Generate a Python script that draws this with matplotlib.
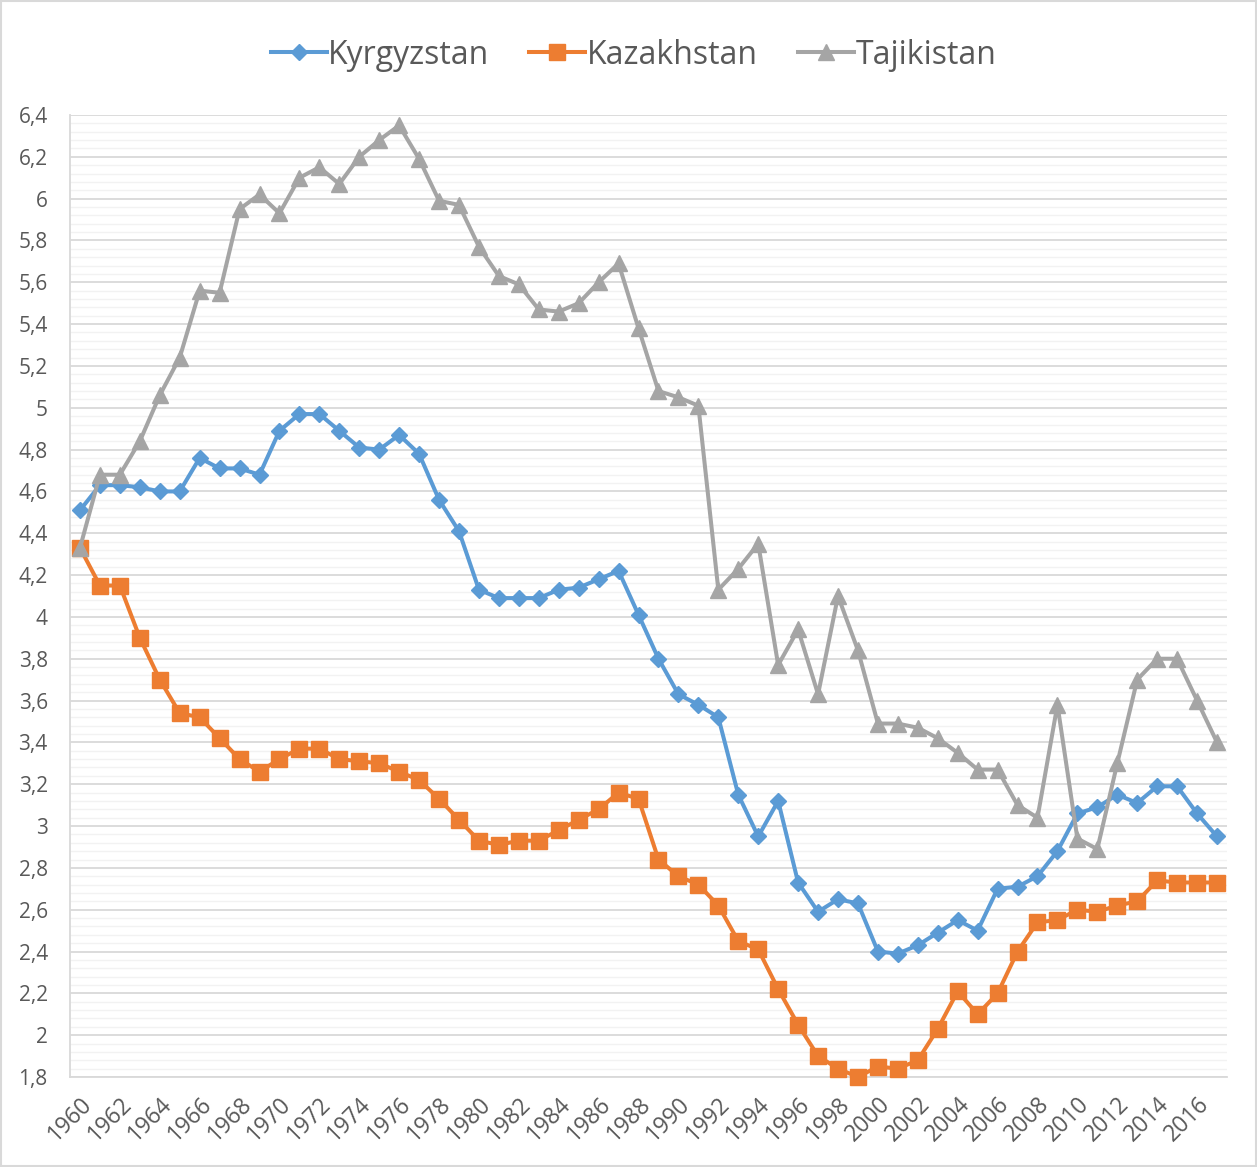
import matplotlib
matplotlib.use("Agg")
import matplotlib.pyplot as plt
import matplotlib.transforms as mtransforms
from matplotlib.ticker import MultipleLocator, FuncFormatter
from matplotlib.patches import Rectangle

years = list(range(1960, 2018))

kyrgyzstan = [4.51, 4.63, 4.63, 4.62, 4.60, 4.60, 4.76, 4.71, 4.71, 4.68,
              4.89, 4.97, 4.97, 4.89, 4.81, 4.80, 4.87, 4.78, 4.56, 4.41,
              4.13, 4.09, 4.09, 4.09, 4.13, 4.14, 4.18, 4.22, 4.01, 3.80,
              3.63, 3.58, 3.52, 3.15, 2.95, 3.12, 2.73, 2.59, 2.65, 2.63,
              2.40, 2.39, 2.43, 2.49, 2.55, 2.50, 2.70, 2.71, 2.76, 2.88,
              3.06, 3.09, 3.15, 3.11, 3.19, 3.19, 3.06, 2.95]

kazakhstan = [4.33, 4.15, 4.15, 3.90, 3.70, 3.54, 3.52, 3.42, 3.32, 3.26,
              3.32, 3.37, 3.37, 3.32, 3.31, 3.30, 3.26, 3.22, 3.13, 3.03,
              2.93, 2.91, 2.93, 2.93, 2.98, 3.03, 3.08, 3.16, 3.13, 2.84,
              2.76, 2.72, 2.62, 2.45, 2.41, 2.22, 2.05, 1.90, 1.84, 1.80,
              1.85, 1.84, 1.88, 2.03, 2.21, 2.10, 2.20, 2.40, 2.54, 2.55,
              2.60, 2.59, 2.62, 2.64, 2.74, 2.73, 2.73, 2.73]

tajikistan = [4.33, 4.68, 4.68, 4.84, 5.06, 5.24, 5.56, 5.55, 5.95, 6.02,
              5.93, 6.10, 6.15, 6.07, 6.20, 6.28, 6.35, 6.19, 5.99, 5.97,
              5.77, 5.63, 5.59, 5.47, 5.46, 5.50, 5.60, 5.69, 5.38, 5.08,
              5.05, 5.01, 4.13, 4.23, 4.35, 3.77, 3.94, 3.63, 4.10, 3.84,
              3.49, 3.49, 3.47, 3.42, 3.35, 3.27, 3.27, 3.10, 3.04, 3.58,
              2.94, 2.89, 3.30, 3.70, 3.80, 3.80, 3.60, 3.40]

series_names = ["Kyrgyzstan", "Kazakhstan", "Tajikistan"]

plt.rcParams['font.family'] = ['Open Sans', 'DejaVu Sans']
text_color = '#595959'

fig = plt.figure(figsize=(12.57, 11.67), dpi=100)
ax = fig.add_axes([70/1257, 1-1077/1167, (1227-70)/1257, (1077-115)/1167])

x = list(range(len(years)))
ax.plot(x, kyrgyzstan, color='#5B9BD5', lw=2.9, marker='D', ms=8.3, label=series_names[0], zorder=3, clip_on=False)
ax.plot(x, kazakhstan, color='#ED7D31', lw=2.9, marker='s', ms=11.5, label=series_names[1], zorder=3, clip_on=False)
ax.plot(x, tajikistan, color='#A5A5A5', lw=2.9, marker='^', ms=12, label=series_names[2], zorder=3, clip_on=False)

ax.set_xlim(-0.5, len(years) - 0.5)
ax.set_ylim(1.8, 6.4)
ax.yaxis.set_major_locator(MultipleLocator(0.2))
ax.yaxis.set_minor_locator(MultipleLocator(0.04))

def yfmt(v, pos):
    s = f"{v:.1f}"
    if s.endswith(".0"):
        s = s[:-2]
    return s.replace(".", ",")
ax.yaxis.set_major_formatter(FuncFormatter(yfmt))

ax.set_xticks(x[::2])
ax.set_xticklabels([str(y) for y in years[::2]], rotation=45, ha='right', va='top',
                   rotation_mode='anchor', fontsize=16.5, color=text_color)
offset = mtransforms.ScaledTranslation(-2/100, 0, fig.dpi_scale_trans)
for lbl in ax.get_xticklabels():
    lbl.set_transform(lbl.get_transform() + offset)
ax.tick_params(axis='y', labelsize=15, labelcolor=text_color, length=0, pad=16)
ax.tick_params(axis='x', length=0, pad=11)
ax.tick_params(axis='y', which='minor', length=0)

ax.grid(which='major', axis='y', color='#D9D9D9', lw=1.3, zorder=0)
ax.grid(which='minor', axis='y', color='#F2F2F2', lw=1.0, zorder=0)
ax.set_axisbelow(True)
for s in ['top', 'right']:
    ax.spines[s].set_visible(False)
ax.spines['left'].set_color('#D9D9D9')
ax.spines['bottom'].set_color('#D9D9D9')
ax.spines['left'].set_linewidth(1.3)
ax.spines['bottom'].set_linewidth(1.3)

leg = fig.legend(loc='center', bbox_to_anchor=(0.5 + 5/1257, 1-55/1167), ncol=3, frameon=False,
                 fontsize=23, handlelength=1.75, handletextpad=0.05, columnspacing=1.25,
                 labelcolor=text_color)

fig.patches.append(Rectangle((0.001, 0.001), 0.998, 0.998, transform=fig.transFigure,
                             fill=False, edgecolor='#D9D9D9', lw=1.5))

fig.savefig('out.png', dpi=100, facecolor='white')
